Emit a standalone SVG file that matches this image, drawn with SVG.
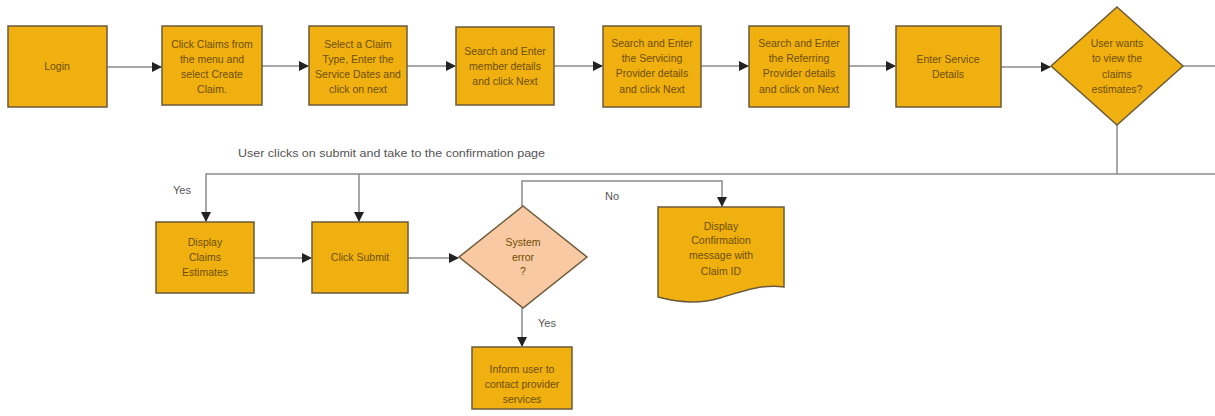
<svg xmlns="http://www.w3.org/2000/svg" width="1215" height="416" viewBox="0 0 1215 416">
<style>
.box{fill:#F0B010;stroke:#6b5a3a;stroke-width:1.5}
.err{fill:#F8C9A3;stroke:#6b5a3a;stroke-width:1.5}
.t{font-family:"Liberation Sans",Arial,sans-serif;font-size:10.5px;fill:#6e4f00;text-anchor:middle}
.lbl{font-family:"Liberation Sans",Arial,sans-serif;font-size:11px;fill:#555}
.c{fill:none;stroke:#8a8a8a;stroke-width:1.5}
</style>
<defs>
<marker id="ah" markerWidth="10" markerHeight="10" refX="9" refY="5" orient="auto" markerUnits="userSpaceOnUse">
<path d="M0,0 L10,5 L0,10 Z" fill="#222"/>
</marker>
</defs>
<rect width="1215" height="416" fill="#fff"/>
<g id="connectors">
<path class="c" d="M107,67 H161" marker-end="url(#ah)"/>
<path class="c" d="M262,66 H308" marker-end="url(#ah)"/>
<path class="c" d="M407,66 H455" marker-end="url(#ah)"/>
<path class="c" d="M554,66 H602" marker-end="url(#ah)"/>
<path class="c" d="M701,66 H748" marker-end="url(#ah)"/>
<path class="c" d="M849,66 H895" marker-end="url(#ah)"/>
<path class="c" d="M1001,67 H1050" marker-end="url(#ah)"/>
<path class="c" d="M1183,66 H1215"/>
<path class="c" d="M1117,125 V174"/>
<path class="c" d="M1215,174 H206 V221" marker-end="url(#ah)"/>
<path class="c" d="M359,174 V221" marker-end="url(#ah)"/>
<path class="c" d="M254,258 H311" marker-end="url(#ah)"/>
<path class="c" d="M408,258 H458" marker-end="url(#ah)"/>
<path class="c" d="M522,206 V181 H722 V206" marker-end="url(#ah)"/>
<path class="c" d="M522,308 V346" marker-end="url(#ah)"/>
</g>
<text class="lbl" x="238" y="157" textLength="307" lengthAdjust="spacingAndGlyphs">User clicks on submit and take to the confirmation page</text>
<text class="lbl" x="173" y="194">Yes</text>
<text class="lbl" x="605" y="200">No</text>
<text class="lbl" x="538" y="327" font-size="12">Yes</text>
<g id="n-login">
<rect class="box" x="8" y="26" width="99" height="81"/>
<text class="t" x="57" y="70">Login</text>
</g>
<g id="n-claims">
<rect class="box" x="162" y="26" width="100" height="79"/>
<text class="t" x="212" y="48">Click Claims  from</text>
<text class="t" x="212" y="63">the menu and</text>
<text class="t" x="212" y="78">select Create</text>
<text class="t" x="212" y="93">Claim.</text>
</g>
<g id="n-type">
<rect class="box" x="309" y="26" width="98" height="79"/>
<text class="t" x="358" y="48">Select a Claim</text>
<text class="t" x="358" y="63">Type, Enter the</text>
<text class="t" x="358" y="78">Service Dates and</text>
<text class="t" x="358" y="93">click on next</text>
</g>
<g id="n-member">
<rect class="box" x="456" y="27" width="98" height="78"/>
<text class="t" x="505" y="55">Search and Enter</text>
<text class="t" x="505" y="70">member details</text>
<text class="t" x="505" y="85">and click  Next</text>
</g>
<g id="n-servicing">
<rect class="box" x="603" y="26" width="98" height="81"/>
<text class="t" x="652" y="47">Search and Enter</text>
<text class="t" x="652" y="62">the Servicing</text>
<text class="t" x="652" y="77">Provider details</text>
<text class="t" x="652" y="93">and click  Next</text>
</g>
<g id="n-referring">
<rect class="box" x="749" y="26" width="100" height="81"/>
<text class="t" x="799" y="47">Search and Enter</text>
<text class="t" x="799" y="62">the Referring</text>
<text class="t" x="799" y="77">Provider details</text>
<text class="t" x="799" y="93">and click on Next</text>
</g>
<g id="n-service">
<rect class="box" x="896" y="26" width="105" height="81"/>
<text class="t" x="948" y="63">Enter Service</text>
<text class="t" x="948" y="78">Details</text>
</g>
<g id="n-decision">
<polygon class="box" points="1117,7 1183,66 1117,125 1051,66"/>
<text class="t" x="1117" y="47">User wants</text>
<text class="t" x="1117" y="62">to view the</text>
<text class="t" x="1117" y="78">claims</text>
<text class="t" x="1117" y="93">estimates?</text>
</g>
<g id="n-estimates">
<rect class="box" x="156" y="222" width="98" height="71"/>
<text class="t" x="205" y="246">Display</text>
<text class="t" x="205" y="261">Claims</text>
<text class="t" x="205" y="276">Estimates</text>
</g>
<g id="n-submit">
<rect class="box" x="312" y="222" width="96" height="71"/>
<text class="t" x="360" y="261">Click Submit</text>
</g>
<g id="n-syserr">
<polygon class="err" points="523,206 587,257 523,308 459,257"/>
<text class="t" x="523" y="246">System</text>
<text class="t" x="523" y="261">error</text>
<text class="t" x="523" y="275">?</text>
</g>
<g id="n-confirm">
<path class="box" d="M658,207 H784 V287 C760,284 740,292 720,298 C700,304 680,303 658,297 Z"/>
<text class="t" x="721" y="230">Display</text>
<text class="t" x="721" y="244">Confirmation</text>
<text class="t" x="721" y="259">message with</text>
<text class="t" x="721" y="275">Claim ID</text>
</g>
<g id="n-inform">
<rect class="box" x="472" y="347" width="100" height="62"/>
<text class="t" x="522" y="373">Inform user to</text>
<text class="t" x="522" y="388">contact provider</text>
<text class="t" x="522" y="403">services</text>
</g>
</svg>
